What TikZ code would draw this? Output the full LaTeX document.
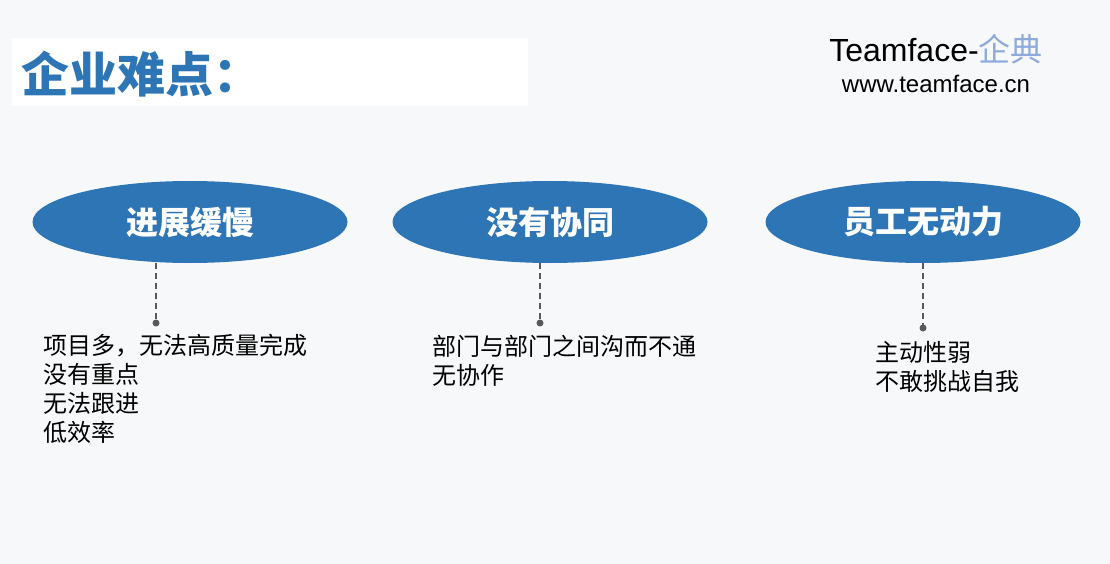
\documentclass[tikz,border=0pt]{standalone}
\usepackage{fontspec}
\setmainfont{Liberation Sans}
\newfontfamily\cjk{Noto Sans CJK SC}
\usetikzlibrary{shapes.geometric}
\definecolor{bg}{HTML}{F7F8FA}
\definecolor{mainblue}{HTML}{2E75B6}
\definecolor{lightblue}{HTML}{8EAADB}
\definecolor{dashgray}{HTML}{595959}
\tikzset{
  pill/.style={ellipse, fill=mainblue, minimum width=315pt, minimum height=82pt, inner sep=0pt,
    text=white, font=\cjk\bfseries\fontsize{32}{36}\selectfont},
  dashlink/.style={draw=dashgray, line width=2.4pt, dash pattern=on 6pt off 4pt},
  enddot/.style={circle, fill=dashgray, inner sep=0pt, minimum size=7pt},
  bodytext/.style={anchor=base west, align=left, inner sep=0pt, font=\cjk\fontsize{24}{29}\selectfont},
}
\begin{document}
\begin{tikzpicture}[x=1pt,y=-1pt]
\useasboundingbox (0,0) rectangle (1110,564);
\fill[bg] (0,0) rectangle (1110,564);
\fill[white] (12,38) rectangle (528,106);
\node[anchor=west, inner sep=0pt, text=mainblue, font=\cjk\bfseries\fontsize{48}{52}\selectfont] (title) at (21,74) {企业难点：};
\node[anchor=base, inner sep=0pt, font=\fontsize{32}{36}\selectfont] (logo) at (936,62) {Teamface-{\cjk\color{lightblue}企典}};
\node[anchor=base, inner sep=0pt, font=\fontsize{24}{28}\selectfont] (url) at (936,93) {www.teamface.cn};

\node[pill] (e1) at (190,222) {进展缓慢};
\node[pill] (e2) at (550,222) {没有协同};
\node[pill] (e3) at (923,222) {员工无动力};

\node[enddot] (d1) at (156,323) {};
\node[enddot] (d2) at (540,323) {};
\node[enddot] (d3) at (923,328) {};
\draw[dashlink] (d1 |- e1.south) -- (d1.center);
\draw[dashlink] (d2 |- e2.south) -- (d2.center);
\draw[dashlink] (d3 |- e3.south) -- (d3.center);

\node[bodytext] (t1) at (43,441) {项目多，无法高质量完成\\没有重点\\无法跟进\\低效率};
\node[bodytext] (t2) at (432,384) {部门与部门之间沟而不通\\无协作};
\node[bodytext] (t3) at (875,390) {主动性弱\\不敢挑战自我};
\end{tikzpicture}
\end{document}
